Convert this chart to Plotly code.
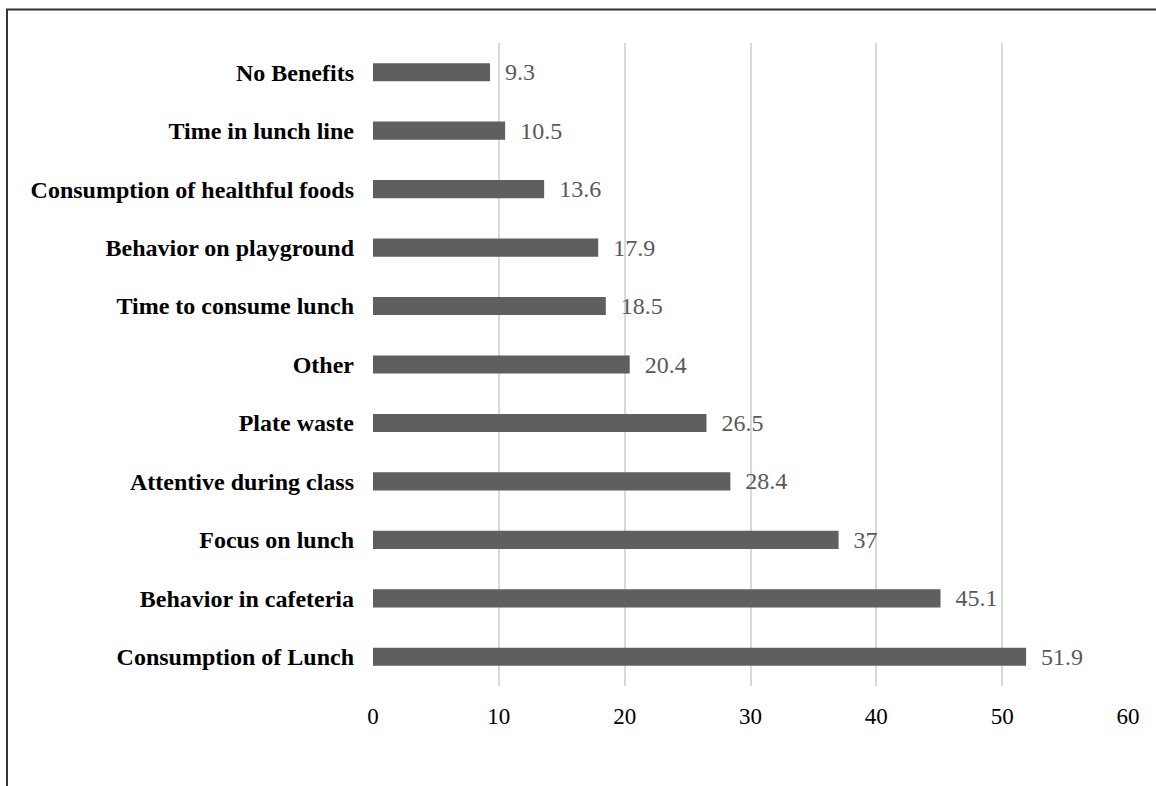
import plotly.graph_objects as go

categories = ["Consumption of Lunch", "Behavior in cafeteria", "Focus on lunch",
              "Attentive during class", "Plate waste", "Other", "Time to consume lunch",
              "Behavior on playground", "Consumption of healthful foods",
              "Time in lunch line", "No Benefits"]
values = [51.9, 45.1, 37, 28.4, 26.5, 20.4, 18.5, 17.9, 13.6, 10.5, 9.3]
x_ticks = [0, 10, 20, 30, 40, 50, 60]

fig = go.Figure(go.Bar(
    y=categories, x=values, orientation="h",
    marker=dict(color="#5f5f5f", line=dict(width=0)),
    text=[f"\u00a0\u00a0{v:g}" for v in values], textposition="outside",
    constraintext="none",
    textfont=dict(family="Liberation Serif", size=24, color="#595959"),
    cliponaxis=False,
))

fig.update_layout(
    width=1156, height=786,
    margin=dict(l=373, r=28, t=43, b=100),
    paper_bgcolor="white", plot_bgcolor="white",
    bargap=0.69, showlegend=False,
    xaxis=dict(range=[0, 60], tickvals=x_ticks, showgrid=True, gridcolor="#d9d9d9",
               gridwidth=1.5, zeroline=False, showline=False, ticks="",
               ticklabelstandoff=14,
               tickfont=dict(family="Liberation Serif", size=23, color="black")),
    yaxis=dict(showgrid=False, zeroline=False, showline=False, ticks="",
               ticklabelstandoff=18,
               tickfont=dict(family="Liberation Serif", size=24, color="black", weight="bold")),
    shapes=[dict(type="rect", xref="paper", yref="paper",
                 x0=(7 - 373) / 755, x1=1.2, y0=-0.3, y1=(686 - 9.5) / 643,
                 line=dict(color="#333333", width=2), fillcolor="rgba(0,0,0,0)", layer="below")],
)
fig.write_html("out.html")
